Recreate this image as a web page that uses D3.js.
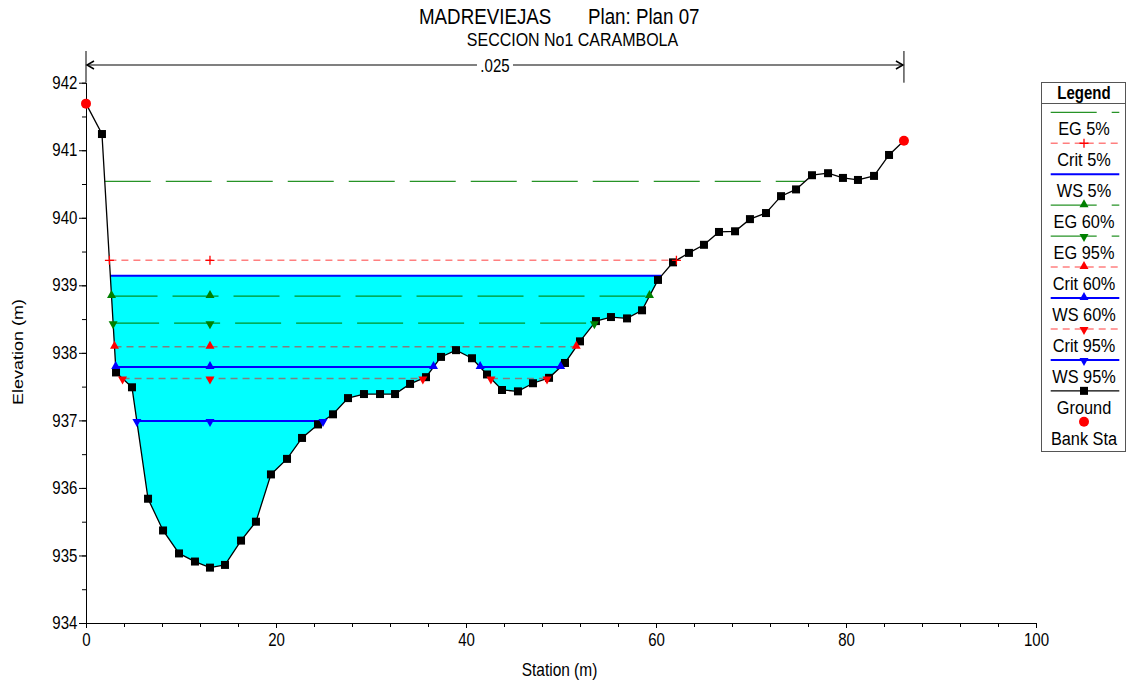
<!DOCTYPE html>
<html><head><meta charset="utf-8">
<script src="https://cdn.jsdelivr.net/npm/d3@7"></script>
<style>body{margin:0;background:#fff} text{font-family:Arial,"Liberation Sans",Helvetica,sans-serif;fill:#000}</style>
</head><body><svg id="c" width="1127" height="683"></svg>
<script>
// ---------------- data ----------------
const titleRiver = "MADREVIEJAS";
const titlePlan = "Plan: Plan 07";
const subtitle = "SECCION No1 CARAMBOLA";
const xLabel = "Station (m)";
const yLabel = "Elevation (m)";
const groundStation = [0,1.68,3.16,4.84,6.53,8.11,9.79,11.47,13.05,14.63,16.32,17.89,19.47,21.16,22.74,24.42,26.0,27.58,29.26,30.95,32.53,34.11,35.79,37.37,38.95,40.63,42.21,43.79,45.47,47.05,48.74,50.42,52.0,53.68,55.26,56.95,58.53,60.21,61.79,63.47,65.05,66.63,68.32,69.89,71.58,73.16,74.74,76.42,78.11,79.68,81.26,82.95,84.53,86.1];
const groundElev = [941.69,941.24,937.71,937.49,935.84,935.37,935.03,934.91,934.82,934.86,935.22,935.50,936.20,936.43,936.74,936.94,937.09,937.33,937.39,937.39,937.39,937.54,937.64,937.94,938.04,937.92,937.68,937.45,937.43,937.55,937.63,937.85,938.17,938.47,938.53,938.51,938.63,939.08,939.34,939.48,939.60,939.79,939.80,939.98,940.07,940.32,940.42,940.63,940.66,940.59,940.56,940.62,940.93,941.14];
const bankStations = [0, 86.1];
const profileNames = ["EG 5%","Crit 5%","WS 5%","EG 60%","EG 95%","Crit 60%","WS 60%","Crit 95%","WS 95%"];
const profileElev = [940.54,939.37,939.14,938.84,938.44,938.09,937.79,937.62,936.99];
const roughnessValue = ".025";
const markerStation = 13.05;
const xTicks = [0,20,40,60,80,100];
const yTicks = [934,935,936,937,938,939,940,941,942];

// ---------------- styles ----------------
const styleOf = {
  "EG 5%":   {color:"#008000", dash:"46,15", w:1.3, op:0.85, m:null},
  "Crit 5%": {color:"#ff0000", dash:"7,5",  w:1.5, op:0.5, m:"plus"},
  "WS 5%":   {color:"#0000ff", dash:null,   w:2,   op:1,   m:null},
  "EG 60%":  {color:"#008000", dash:"46,15", w:1.3, op:0.85, m:"up"},
  "EG 95%":  {color:"#008000", dash:"46,15", w:1.3, op:0.85, m:"down"},
  "Crit 60%":{color:"#ff0000", dash:"7,5",  w:1.5, op:0.5, m:"up"},
  "WS 60%":  {color:"#0000ff", dash:null,   w:2,   op:1,   m:"up"},
  "Crit 95%":{color:"#ff0000", dash:"7,5",  w:1.5, op:0.5, m:"down"},
  "WS 95%":  {color:"#0000ff", dash:null,   w:2,   op:1,   m:"down"}
};

const svg = d3.select("#c");
const x = d3.scaleLinear().domain([0,100]).range([86,1036]);
const y = d3.scaleLinear().domain([934,942]).range([623,82.7]);
const SX = 0.86;

function T(parent, px, py, str, size, anchor, weight){
  const g = parent.append("g").attr("transform",`translate(${px},${py}) scale(${SX},1)`);
  g.append("text").attr("text-anchor",anchor||"middle").style("font-size",size+"px")
   .style("font-weight",weight||"normal").text(str);
  return g;
}

// titles
T(svg, 419, 24, titleRiver, 21.8, "start");
T(svg, 588, 24, titlePlan, 21.8, "start");
T(svg, 572.5, 46, subtitle, 18.6, "middle");

// ground data
const ground = groundStation.map((s,i)=>({s, e:groundElev[i]}));

function wetSegments(h){
  const segs=[]; let start=null;
  for(let i=0;i<ground.length-1;i++){
    const a=ground[i], b=ground[i+1];
    if(a.e>=h && b.e<h){ start = a.s + (b.s-a.s)*(a.e-h)/(a.e-b.e); }
    else if(a.e<h && b.e>=h && start!==null){
      segs.push([start, a.s + (b.s-a.s)*(h-a.e)/(b.e-a.e)]); start=null;
    }
  }
  return segs;
}

// water fill (highest WS)
const wsTop = profileElev[profileNames.indexOf("WS 5%")];
const line = d3.line().x(d=>x(d.s)).y(d=>y(d.e));
wetSegments(wsTop).forEach(([s0,s1])=>{
  const pts=[{s:s0,e:wsTop},{s:s1,e:wsTop}];
  ground.filter(g=>g.s>s0 && g.s<s1).reverse().forEach(g=>pts.push(g));
  svg.append("path").attr("d", line(pts)+"Z").attr("fill","#00ffff").attr("stroke","none");
});

// axes
const gy = svg.append("g").attr("transform","translate(86,0)");
gy.call(d3.axisLeft(y).tickValues(yTicks).tickSize(7).tickSizeOuter(0).tickPadding(3).tickFormat(d3.format("d")));
gy.append("g").call(d3.axisLeft(y).tickValues(d3.range(934,942.01,0.5)).tickSize(4).tickSizeOuter(0).tickFormat(""));
const gx = svg.append("g").attr("transform","translate(0,623)");
gx.call(d3.axisBottom(x).tickValues(xTicks).tickSize(5).tickSizeOuter(0).tickPadding(6).tickFormat(d3.format("d")));
gx.append("g").call(d3.axisBottom(x).tickValues(d3.range(0,100.1,4)).tickSize(4).tickSizeOuter(0).tickFormat(""));
[gy,gx].forEach(g=>{
  g.attr("font-size",null).attr("font-family",null);
  g.selectAll("text").style("font-size","17.5px").attr("transform",`scale(${SX},1)`);
  g.selectAll("path.domain, line").attr("stroke","#000");
});
T(svg, 559.5, 676, xLabel, 18, "middle");
svg.append("g").attr("transform",`translate(23,352) rotate(-90) scale(1,${SX})`)
  .append("text").attr("text-anchor","middle").style("font-size","18px").text(yLabel);

// roughness bar
const rx0 = x(bankStations[0]), rx1 = x(bankStations[1]), ry = 65;
svg.append("line").attr("x1",rx0).attr("x2",rx0).attr("y1",51).attr("y2",y(942)).attr("stroke","#000");
svg.append("line").attr("x1",rx1).attr("x2",rx1).attr("y1",51).attr("y2",y(942)).attr("stroke","#000");
svg.append("line").attr("x1",rx0).attr("x2",rx1).attr("y1",ry).attr("y2",ry).attr("stroke","#808080").attr("stroke-width",2);
svg.append("path").attr("d",`M${rx0+8},${ry-4}L${rx0+1},${ry}L${rx0+8},${ry+4}M${rx1-8},${ry-4}L${rx1-1},${ry}L${rx1-8},${ry+4}`)
  .attr("fill","none").attr("stroke","#000").attr("stroke-width",1.5);
const rmid=(rx0+rx1)/2;
svg.append("rect").attr("x",rmid-18).attr("y",ry-8).attr("width",36).attr("height",16).attr("fill","#fff");
T(svg, rmid, ry+6.5, roughnessValue, 17.5, "middle");

// markers
function marker(g, type, px, py, color){
  if(type==="plus"){
    g.append("path").attr("d",`M${px-4.5},${py}H${px+4.5}M${px},${py-4.5}V${py+4.5}`).attr("stroke",color).attr("stroke-width",1.3).attr("fill","none");
  } else if(type==="up"){
    g.append("path").attr("d",`M${px},${py-6}L${px+4.5},${py+2}L${px-4.5},${py+2}Z`).attr("fill",color);
  } else if(type==="down"){
    g.append("path").attr("d",`M${px},${py+6}L${px+4.5},${py-2}L${px-4.5},${py-2}Z`).attr("fill",color);
  } else if(type==="square"){
    g.append("rect").attr("x",px-4).attr("y",py-4).attr("width",8).attr("height",8).attr("fill",color);
  } else if(type==="dot"){
    g.append("circle").attr("cx",px).attr("cy",py).attr("r",5).attr("fill",color);
  }
}

// water surface lines
const gl = svg.append("g");
const gm = svg.append("g");
profileNames.forEach((name,i)=>{
  const h = profileElev[i], st = styleOf[name];
  wetSegments(h).forEach(([s0,s1])=>{
    const l = gl.append("line").attr("x1",x(s0)).attr("x2",x(s1)).attr("y1",y(h)).attr("y2",y(h))
      .attr("stroke",st.color).attr("stroke-width",st.w).attr("stroke-opacity",st.op);
    if(st.dash) l.attr("stroke-dasharray",st.dash);
    if(st.m){
      const mk=[s0,s1];
      if(markerStation>s0 && markerStation<s1) mk.push(markerStation);
      mk.forEach(s=>marker(gm, st.m, x(s), y(h), st.color));
    }
  });
});

// ground
svg.append("path").attr("d", line(ground)).attr("fill","none").attr("stroke","#000").attr("stroke-width",1.3);
const gg = svg.append("g");
ground.forEach((g,i)=>{
  if(i===0 || i===ground.length-1) return;
  marker(gg,"square",x(g.s),y(g.e),"#000");
});
bankStations.forEach(b=>{
  const g = ground.find(p=>Math.abs(p.s-b)<1e-6);
  marker(gg,"dot",x(g.s),y(g.e),"#ff0000");
});
svg.node().appendChild(gm.node());

// legend
const L = svg.append("g");
L.append("rect").attr("x",1041.5).attr("y",82.5).attr("width",84).attr("height",369).attr("fill","#fff").attr("stroke","#555");
L.append("line").attr("x1",1041.5).attr("x2",1125.5).attr("y1",103.5).attr("y2",103.5).attr("stroke","#555");
T(L, 1084, 98.5, "Legend", 17.5, "middle", "bold");
const legendNames = profileNames.concat(["Ground","Bank Sta"]);
legendNames.forEach((name,i)=>{
  const ly = 112.3 + 30.95*i;
  const st = styleOf[name];
  if(st){
    const l=L.append("line").attr("x1",1050.7).attr("x2",1119.3).attr("y1",ly).attr("y2",ly)
      .attr("stroke",st.color).attr("stroke-width",st.w).attr("stroke-opacity",st.op);
    if(st.dash) l.attr("stroke-dasharray",st.dash);
    if(st.m) marker(L, st.m, 1084, ly, st.color);
  } else if(name==="Ground"){
    L.append("line").attr("x1",1050.7).attr("x2",1119.3).attr("y1",ly).attr("y2",ly).attr("stroke","#000").attr("stroke-width",1.3);
    marker(L,"square",1084,ly,"#000");
  } else {
    marker(L,"dot",1084,ly,"#ff0000");
  }
  T(L, 1084, ly+23, name, 19, "middle");
});
</script></body></html>
